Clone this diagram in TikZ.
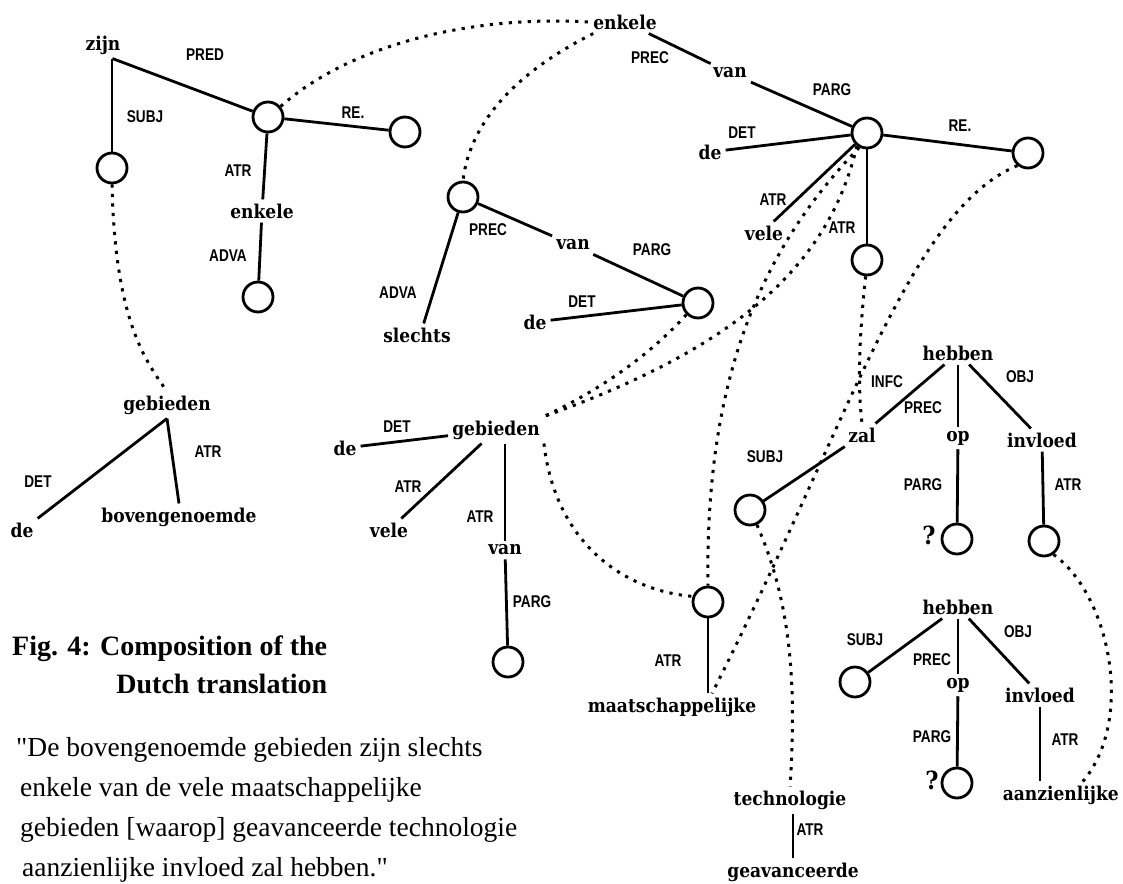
\documentclass[tikz,border=0pt]{standalone}
\usepackage{fontspec}
\usetikzlibrary{calc}
\newfontfamily\wordfont{DejaVu Serif}[FakeStretch=0.9]
\newfontfamily\labfont{Liberation Sans}[FakeStretch=0.8]
\newfontfamily\capfont{Liberation Serif}
\begin{document}
\begin{tikzpicture}[x=1pt,y=-1pt,
  word/.style={font=\wordfont\bfseries\fontsize{19}{19}\selectfont, inner sep=4pt},
  qmark/.style={font=\wordfont\bfseries\fontsize{25}{25}\selectfont, inner sep=0pt},
  lab/.style={font=\labfont\bfseries\fontsize{17}{17}\selectfont, inner sep=0pt},
  circ/.style={circle, draw, line width=2.8pt, minimum size=30pt, inner sep=0pt},
  link/.style={line width=2.8pt},
  trace/.style={line width=3pt, dash pattern=on 3.2pt off 6.3pt},
  capline/.style={font=\capfont\bfseries\fontsize{28}{28}\selectfont, inner sep=0pt, anchor=base west},
  quoteline/.style={font=\capfont\fontsize{27.5}{27.5}\selectfont, inner sep=0pt, anchor=base west}]
\useasboundingbox (0,0) rectangle (1123,883);
\fill[white] (0,0) rectangle (1123,883);

% ---- "zijn" tree
\node[word] (zijn) at (103,45) {zijn};
\node[circ] (c1) at (112,168) {};
\node[circ] (c2) at (268,117) {};
\node[circ] (c3) at (405,132) {};
\node[word] (enkA) at (262,211) {enkele};
\node[circ] (c4) at (258,297) {};
\draw[link] (c1) -- (c1 |- zijn.south);
\draw[link] (zijn.-55) -- (c2);
\draw[link] (c2) -- (c3);
\draw[link] (c2) -- (enkA);
\draw[link] (enkA) -- (c4);
\node[lab] (l1) at (205,55) {PRED};
\node[lab] (l2) at (145,117) {SUBJ};
\node[lab] (l3) at (353,113) {RE.};
\node[lab] (l4) at (238,171) {ATR};
\node[lab] (l5) at (228,256) {ADVA};

% ---- "slechts" tree
\node[word] (enkB) at (625,22) {enkele};
\node[circ] (c5) at (463,197) {};
\node[word] (slechts) at (417,335) {slechts};
\node[word] (vanB) at (573,245) {van};
\node[word] (deB) at (535,322) {de};
\node[circ] (c6) at (698,303) {};
\draw[link] (c5) -- (slechts.60);
\draw[link] (c5) -- (vanB);
\draw[link] (vanB) -- (c6);
\draw[link] (deB) -- (c6);
\node[lab] (l6) at (488,230) {PREC};
\node[lab] (l7) at (652,250) {PARG};
\node[lab] (l8) at (398,293) {ADVA};
\node[lab] (l9) at (582,302) {DET};

% ---- upper right "van" tree
\node[word] (vanC) at (730,73) {van};
\node[circ] (c7) at (867,133) {};
\node[word] (deC) at (710,152) {de};
\node[circ] (c8) at (1028,153) {};
\node[word] (veleC) at (764,233) {vele};
\node[circ] (c9) at (867,260) {};
\draw[link] (enkB) -- (vanC);
\draw[link] (vanC) -- (c7);
\draw[link] (deC) -- (c7);
\draw[link] (c7) -- (c8);
\draw[link] (c7) -- (veleC.50);
\draw[link] (c7) -- (c9);
\node[lab] (l10) at (650,58) {PREC};
\node[lab] (l11) at (832,90) {PARG};
\node[lab] (l12) at (742,133) {DET};
\node[lab] (l13) at (960,126) {RE.};
\node[lab] (l14) at (773,200) {ATR};
\node[lab] (l15) at (842,228) {ATR};

% ---- left "gebieden"
\node[word] (gebA) at (167,405) {gebieden};
\node[word] (deA) at (22,530) {de};
\node[word] (bov) at (179,517) {bovengenoemde};
\draw[link] (gebA.south) -- (deA.north east);
\draw[link] (gebA.south) -- (bov.north);
\node[lab] (l16) at (38,482) {DET};
\node[lab] (l17) at (208,452) {ATR};

% ---- middle "gebieden"
\node[word] (gebM) at (496,430) {gebieden};
\node[word] (deM) at (345,448) {de};
\node[word] (veleM) at (389,530) {vele};
\node[word] (vanM) at (505,550) {van};
\node[circ] (c10) at (508,662) {};
\draw[link] (gebM) -- (deM);
\draw[link] (gebM) -- (veleM);
\draw[link] (vanM.north) -- (vanM.north |- gebM.south);
\draw[link] (vanM) -- (c10);
\node[lab] (l18) at (397,427) {DET};
\node[lab] (l19) at (408,487) {ATR};
\node[lab] (l20) at (480,517) {ATR};
\node[lab] (l21) at (532,602) {PARG};

% ---- "maatschappelijke", "technologie"
\node[circ] (c11) at (708,602) {};
\node[word] (maat) at (672,707) {maatschappelijke};
\draw[link] (c11) -- (c11 |- maat.north);
\node[lab] (l22) at (668,661) {ATR};
\node[word] (techn) at (790,800) {technologie};
\node[word] (geav) at (793,872) {geavanceerde};
\draw[link] (geav.north) -- (geav.north |- techn.south);
\node[lab] (l23) at (810,830) {ATR};

% ---- upper "hebben"
\node[word] (hebA) at (958,353) {hebben};
\node[word] (zal) at (862,435) {zal};
\node[word] (opA) at (958,438) {op};
\node[word] (invA) at (1042,440) {invloed};
\node[circ] (c12) at (750,510) {};
\node[circ] (c13) at (957,539) {};
\node[circ] (c14) at (1044,541) {};
\node[qmark] (qA) at (929,535) {?};
\draw[link] (hebA) -- (zal);
\draw[link] (zal) -- (c12);
\draw[link] (hebA) -- (opA);
\draw[link] (opA) -- (c13);
\draw[link] (hebA) -- (invA);
\draw[link] (invA) -- (c14);
\node[lab] (l24) at (887,382) {INFC};
\node[lab] (l25) at (923,408) {PREC};
\node[lab] (l26) at (1020,377) {OBJ};
\node[lab] (l27) at (765,457) {SUBJ};
\node[lab] (l28) at (923,485) {PARG};
\node[lab] (l29) at (1068,485) {ATR};

% ---- lower "hebben"
\node[word] (hebB) at (958,607) {hebben};
\node[circ] (c15) at (855,682) {};
\node[word] (opB) at (958,685) {op};
\node[circ] (c16) at (957,783) {};
\node[qmark] (qB) at (932,780) {?};
\node[word] (invB) at (1040,695) {invloed};
\node[word, anchor=east] (aanz) at (1123,795) {aanzienlijke};
\draw[link] (hebB) -- (c15);
\draw[link] (hebB) -- (opB);
\draw[link] (opB) -- (c16);
\draw[link] (hebB) -- (invB);
\draw[link] (invB.south) -- (invB.south |- aanz.north);
\node[lab] (l30) at (865,640) {SUBJ};
\node[lab] (l31) at (1018,632) {OBJ};
\node[lab] (l32) at (932,660) {PREC};
\node[lab] (l33) at (932,737) {PARG};
\node[lab] (l34) at (1065,740) {ATR};

% ---- dotted correspondence links
\draw[trace] (c2.40) .. controls (350,45) and (470,15) .. (enkB.west);
\draw[trace] (enkB.200) .. controls (520,70) and (470,120) .. (c5.north);
\draw[trace] (c1.south) .. controls (115,320) and (145,360) .. (gebA.north);
\draw[trace] (c6.225) .. controls (650,355) and (600,390) .. (gebM.north east);
\draw[trace] (c7.232) .. controls (830,260) and (745,345) .. (gebM.north east);
\draw[trace] (c7.242) .. controls (760,250) and (705,380) .. (c11.north);
\draw[trace] (gebM.south east) .. controls (555,540) and (620,590) .. (c11.160);
\draw[trace] (c8.230) .. controls (910,210) and (850,420) .. ($(c11 |- maat.north)+(4,0)$);
\draw[trace] (c9.265) .. controls (860,330) and (857,380) .. (zal.north);
\draw[trace] (c12.-65) .. controls (790,600) and (797,680) .. (techn.north);
\draw[trace] (c14.-55) .. controls (1110,595) and (1135,720) .. ($(aanz.north)+(22,0)$);

% ---- caption and sentence
\node[capline] (fig1) at (12,655) {Fig. 4: Composition of the};
\coordinate (capsecond) at (0,693);
\node[capline, anchor=base east] (fig2) at (fig1.east |- capsecond) {Dutch translation};
\node[quoteline] (s1) at (16,756) {"De bovengenoemde gebieden zijn slechts};
\node[quoteline] (s2) at (20,796) {enkele van de vele maatschappelijke};
\node[quoteline] (s3) at (20,836) {gebieden [waarop] geavanceerde technologie};
\node[quoteline] (s4) at (22,876) {aanzienlijke invloed zal hebben."};
\end{tikzpicture}
\end{document}
